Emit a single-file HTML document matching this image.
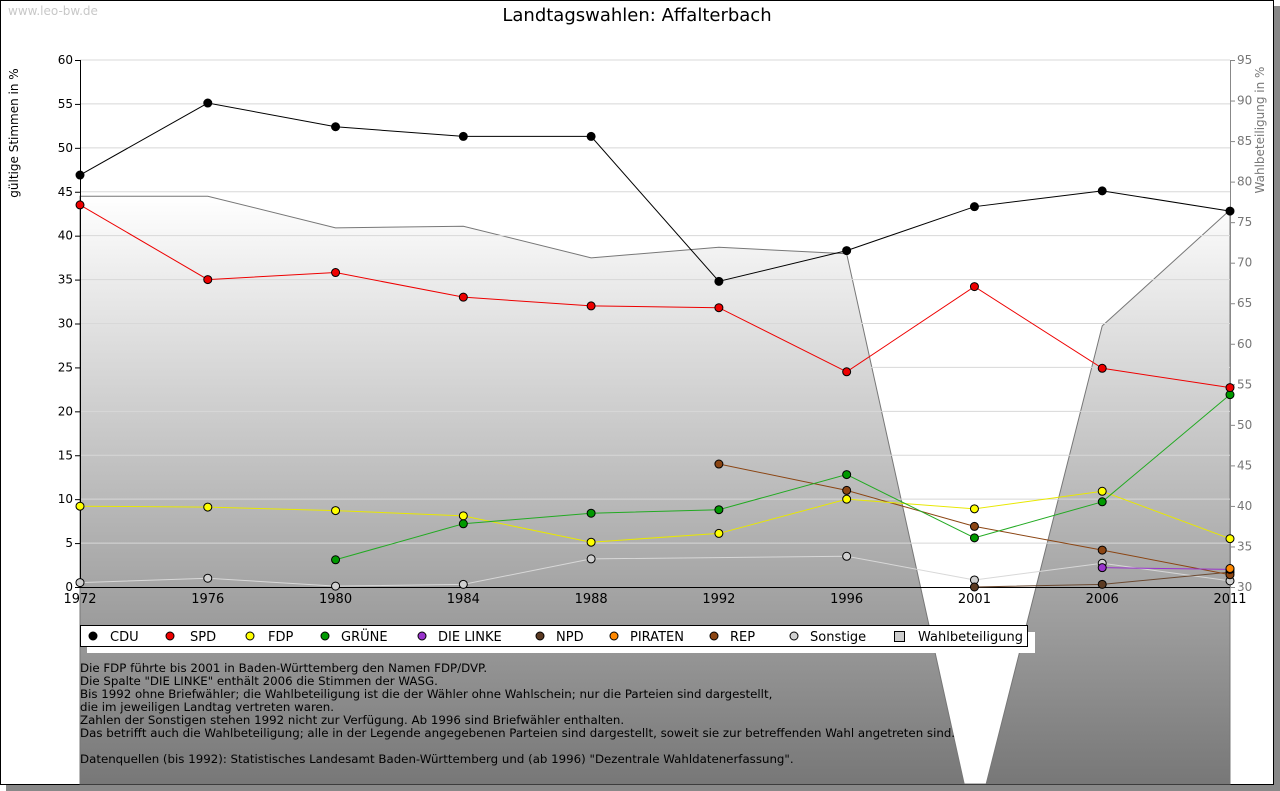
<!DOCTYPE html>
<html><head><meta charset="utf-8"><style>
html,body{margin:0;background:#fff;width:1280px;height:791px;overflow:hidden;}
svg{display:block;font-family:"DejaVu Sans","Liberation Sans",sans-serif;overflow:hidden;}
</style></head><body>
<svg id="chart" width="1280" height="791" viewBox="0 0 1280 791" xmlns="http://www.w3.org/2000/svg">
<defs>
<linearGradient id="wg" x1="0" y1="196" x2="0" y2="785" gradientUnits="userSpaceOnUse">
<stop offset="0" stop-color="#ffffff"/><stop offset="1" stop-color="#777777"/>
</linearGradient>
</defs>
<rect x="6" y="6" width="1274" height="785" fill="#888"/>
<rect x="0.5" y="0.5" width="1273" height="784" fill="#fff" stroke="#000"/>
<g id="fillLayer"></g>
<g id="grid"></g>
<text x="8" y="15" font-size="12" fill="#c8c8c8">www.leo-bw.de</text>
<text x="637" y="21" font-size="18" text-anchor="middle" fill="#000">Landtagswahlen: Affalterbach</text>
<text transform="translate(18,133) rotate(-90)" font-size="12" text-anchor="middle">gültige Stimmen in %</text>
<text transform="translate(1264,130) rotate(-90)" font-size="12" text-anchor="middle" fill="#777">Wahlbeteiligung in %</text>
<g id="axes"></g>
<g id="series"></g>
<g>
<rect x="87" y="632" width="948" height="21" fill="#fff"/>
<rect x="80.5" y="625.5" width="947" height="21" fill="#fff" stroke="#000"/>
<g id="legendItems"></g>
</g>
<g font-size="11.8" fill="#000">
<text x="80" y="672">Die FDP führte bis 2001 in Baden-Württemberg den Namen FDP/DVP.</text>
<text x="80" y="685">Die Spalte "DIE LINKE" enthält 2006 die Stimmen der WASG.</text>
<text x="80" y="698">Bis 1992 ohne Briefwähler; die Wahlbeteiligung ist die der Wähler ohne Wahlschein; nur die Parteien sind dargestellt,</text>
<text x="80" y="711">die im jeweiligen Landtag vertreten waren.</text>
<text x="80" y="724">Zahlen der Sonstigen stehen 1992 nicht zur Verfügung. Ab 1996 sind Briefwähler enthalten.</text>
<text x="80" y="737">Das betrifft auch die Wahlbeteiligung; alle in der Legende angegebenen Parteien sind dargestellt, soweit sie zur betreffenden Wahl angetreten sind.</text>
<text x="80" y="763">Datenquellen (bis 1992): Statistisches Landesamt Baden-Württemberg und (ab 1996) "Dezentrale Wahldatenerfassung".</text>
</g>
</svg>
<script>
const years = ["1972","1976","1980","1984","1988","1992","1996","2001","2006","2011"];
const turnout = [78.2,78.2,74.3,74.5,70.6,71.9,71.1,0,62.2,76.5];
const cdu = [46.9,55.1,52.4,51.3,51.3,34.8,38.3,43.3,45.1,42.8];
const spd = [43.5,35.0,35.8,33.0,32.0,31.8,24.5,34.2,24.9,22.7];
const fdp = [9.2,9.1,8.7,8.1,5.1,6.1,10.0,8.9,10.9,5.5];
const gruene = [null,null,3.1,7.2,8.4,8.8,12.8,5.6,9.7,21.9];
const linke = [null,null,null,null,null,null,null,null,2.2,2.0];
const npd = [null,null,null,null,null,null,null,0.0,0.3,1.7];
const piraten = [null,null,null,null,null,null,null,null,null,2.1];
const rep = [null,null,null,null,null,14.0,11.0,6.9,4.2,1.4];
const sonstige = [0.5,1.0,0.1,0.3,3.2,null,3.5,0.8,2.7,0.7];
const leftTicks = [0,5,10,15,20,25,30,35,40,45,50,55,60];
const rightTicks = [30,35,40,45,50,55,60,65,70,75,80,85,90,95];

const NS="http://www.w3.org/2000/svg";
const X0=80,X1=1230,YT=60,YB=587,YMAX=784;
const xs=i=>X0+i*(X1-X0)/(years.length-1);
const yl=v=>YB-v*(YB-YT)/60;
const yr=v=>YB-(v-30)*(YB-YT)/65;
function mk(tag,attrs,parent){const e=document.createElementNS(NS,tag);for(const k in attrs)e.setAttribute(k,attrs[k]);parent.appendChild(e);return e;}

// turnout area, clipped to frame bottom
const fl=document.getElementById('fillLayer');
const raw=[[X0,YMAX]].concat(turnout.map((v,i)=>[xs(i),yr(v)])).concat([[X1,YMAX]]);
const poly=[];
for(let i=0;i<raw.length;i++){
  const a=raw[i],b=raw[(i+1)%raw.length];
  const ain=a[1]<=YMAX,bin=b[1]<=YMAX;
  if(ain)poly.push(a);
  if(ain!==bin){const t=(YMAX-a[1])/(b[1]-a[1]);poly.push([a[0]+t*(b[0]-a[0]),YMAX]);}
}
const area=mk('polygon',{points:poly.map(p=>p[0]+','+p[1]).join(' '),fill:'url(#wg)',stroke:'#777','stroke-width':1},fl);



// grid
const g=document.getElementById('grid');
leftTicks.forEach(t=>{if(t>0){const l=mk('line',{x1:X0,x2:X1,y1:yl(t),y2:yl(t),stroke:'#d8d8d8'},g);

}});

// axes
const ax=document.getElementById('axes');
const la=mk('line',{x1:X0+.5,x2:X0+.5,y1:YT,y2:YB,stroke:'#000'},ax);


const ra=mk('line',{x1:X1+.5,x2:X1+.5,y1:YT,y2:YB,stroke:'#888'},ax);


const xa=mk('line',{x1:X0,x2:X1,y1:YB+.5,y2:YB+.5,stroke:'#000'},ax);


leftTicks.forEach(t=>{mk('line',{x1:X0-5,x2:X0,y1:yl(t)+.5,y2:yl(t)+.5,stroke:'#000'},ax);
const tx=mk('text',{x:X0-7,y:yl(t)+4,'font-size':12,'text-anchor':'end'},ax);tx.textContent=t;

});
rightTicks.forEach(t=>{mk('line',{x1:X1,x2:X1+5,y1:yr(t)+.5,y2:yr(t)+.5,stroke:'#888'},ax);
const tx=mk('text',{x:X1+7,y:yr(t)+4,'font-size':12,fill:'#777'},ax);tx.textContent=t;

});
years.forEach((y,i)=>{const tx=mk('text',{x:xs(i),y:YB+16,'font-size':13,'text-anchor':'middle'},ax);tx.textContent=y;

});

// series
const S=document.getElementById('series');
const series=[["sonstige",sonstige,"#d0d0d0","#d8d8d8"],["npd",npd,"#5b3a22","#6b4a32"],["rep",rep,"#8b4513","#8b4513"],["linke",linke,"#9933cc","#9933cc"],["piraten",piraten,"#ff8800","#ff8800"],["fdp",fdp,"#ffff00","#e8e800"],["gruene",gruene,"#009900","#22aa22"],["spd",spd,"#ee0000","#ee0000"],["cdu",cdu,"#000000","#000000"]];
series.forEach(([n,d,fc,lc])=>{
  const grp=mk('g',{},S);
  
  
  const valid=d.map((v,i)=>[i,v]).filter(p=>p[1]!==null);
  if(valid.length>1){const pl=mk('polyline',{points:valid.map(p=>xs(p[0])+','+yl(p[1])).join(' '),fill:'none',stroke:lc,'stroke-width':1},grp);
  
  }
  valid.forEach(p=>{const c=mk('circle',{cx:xs(p[0]),cy:yl(p[1]),r:4,fill:fc,stroke:'#000','stroke-width':1},grp);
  
  });
});

// legend
const L=document.getElementById('legendItems');
const leg=[["CDU","#000",93,110],["SPD","#ee0000",170,190],["FDP","#ffff00",250,268],["GRÜNE","#009900",325,341],["DIE LINKE","#9933cc",422,438],["NPD","#5b3a22",540,556],["PIRATEN","#ff8800",614,630],["REP","#8b4513",714,730],["Sonstige","#d0d0d0",794,810]];
leg.forEach(([t,c,mx,tx])=>{const gg=mk('g',{},L);


mk('circle',{cx:mx,cy:636,r:4,fill:c,stroke:'#000'},gg);
const te=mk('text',{x:tx,y:641,'font-size':13},gg);te.textContent=t;});
const gw=mk('g',{},L);


mk('rect',{x:894.5,y:631.5,width:10,height:10,fill:'#ccc',stroke:'#000'},gw);
const tw=mk('text',{x:918,y:641,'font-size':13},gw);tw.textContent="Wahlbeteiligung";
</script>
</body></html>
